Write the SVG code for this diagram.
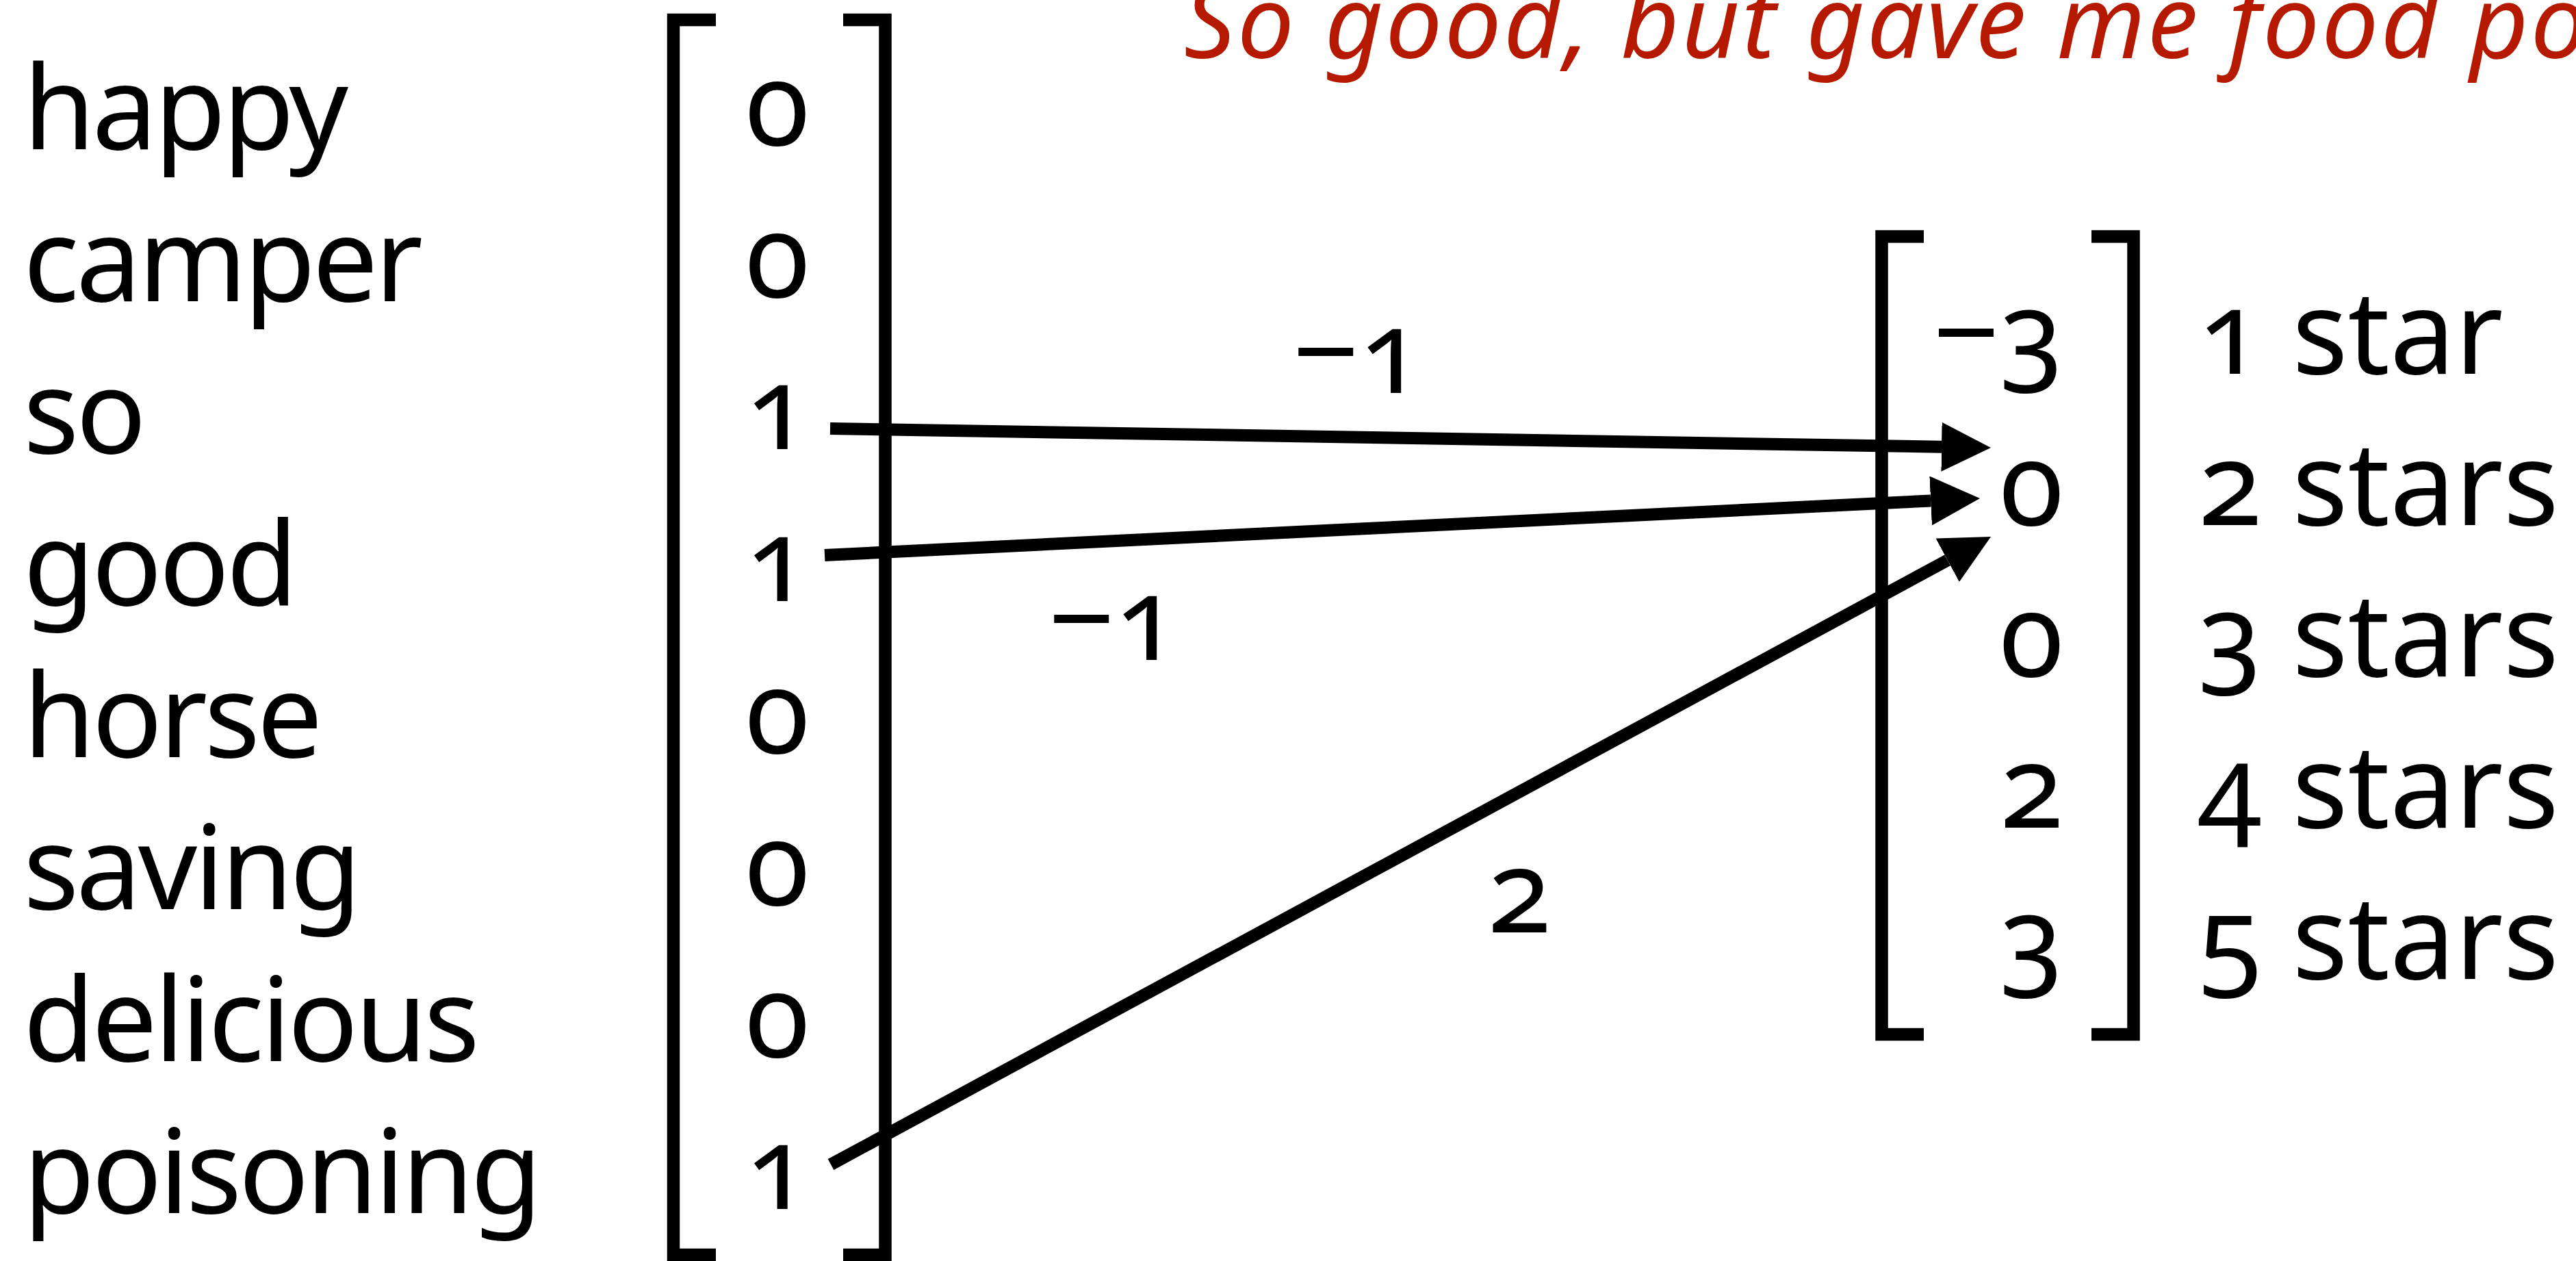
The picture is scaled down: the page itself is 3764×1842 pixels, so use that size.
<svg xmlns="http://www.w3.org/2000/svg" width="3764" height="1842" viewBox="0 0 3764 1842">
  <style>
    .t { font-family: "Noto Sans", "Open Sans", sans-serif; font-size: 170px; fill: #000; font-variant-numeric: oldstyle-nums; }
    .w { letter-spacing: -4.5px; }
    .mid { text-anchor: middle; }
    .end { text-anchor: end; }
    .title { font-family: "Noto Sans", "Open Sans", sans-serif; font-style: italic; font-size: 148px; letter-spacing: 3px; fill: #B51A00; }
    .br { fill: none; stroke: #000; stroke-width: 18.5; stroke-linejoin: miter; stroke-linecap: butt; }
    .ar { fill: none; stroke: #000; stroke-width: 18; stroke-linecap: butt; }
  </style>
  <defs>
    <marker id="head" viewBox="0 0 72 72" markerUnits="userSpaceOnUse" markerWidth="72" markerHeight="72" refX="0" refY="36" orient="auto">
      <path d="M0,0 L72,36 L0,72 z" fill="#000"/>
    </marker>
  </defs>

  <rect width="3764" height="1842" fill="#fff"/>

  <g id="title">
    <text class="title" x="1730" y="85">So good, but gave me food po</text>
  </g>

  <g id="words">
    <text class="t w" x="34" y="218">happy</text>
    <text class="t w" x="34" y="440">camper</text>
    <text class="t w" x="34" y="662">so</text>
    <text class="t w" x="34" y="884">good</text>
    <text class="t w" x="34" y="1106">horse</text>
    <text class="t w" x="34" y="1328">saving</text>
    <text class="t w" x="34" y="1550">delicious</text>
    <text class="t w" x="34" y="1772">poisoning</text>
  </g>

  <g id="input-vector">
    <path class="br" d="M1046,29 H984 V1833 H1046"/>
    <path class="br" d="M1232,29 H1293.5 V1833 H1232"/>
    <text class="t mid" x="1136" y="212">0</text>
    <text class="t mid" x="1136" y="434">0</text>
    <text class="t mid" x="1136" y="656">1</text>
    <text class="t mid" x="1136" y="878">1</text>
    <text class="t mid" x="1136" y="1100">0</text>
    <text class="t mid" x="1136" y="1322">0</text>
    <text class="t mid" x="1136" y="1544">0</text>
    <text class="t mid" x="1136" y="1766">1</text>
  </g>

  <g id="output-vector">
    <path class="br" d="M2811,345.5 H2749.5 V1511 H2811"/>
    <path class="br" d="M3056,345.5 H3117.5 V1511 H3056"/>
    <text class="t end" x="3015" y="546">−3</text>
    <text class="t end" x="3015" y="767">0</text>
    <text class="t end" x="3015" y="988">0</text>
    <text class="t end" x="3015" y="1209">2</text>
    <text class="t end" x="3015" y="1430">3</text>
  </g>

  <g id="star-labels">
    <text class="t" x="3212" y="546">1 star</text>
    <text class="t" x="3212" y="767">2 stars</text>
    <text class="t" x="3212" y="988">3 stars</text>
    <text class="t" x="3212" y="1209">4 stars</text>
    <text class="t" x="3212" y="1430">5 stars</text>
  </g>

  <g id="connectors">
    <line class="ar" x1="1213" y1="626" x2="2837" y2="652.8" marker-end="url(#head)"/>
    <line class="ar" x1="1205" y1="811" x2="2821.1" y2="731.5" marker-end="url(#head)"/>
    <line class="ar" x1="1214" y1="1701" x2="2845.7" y2="818.3" marker-end="url(#head)"/>
    <text class="t mid" x="1984" y="574">−1</text>
    <text class="t mid" x="1627" y="964">−1</text>
    <text class="t mid" x="2220" y="1362">2</text>
  </g>
</svg>
